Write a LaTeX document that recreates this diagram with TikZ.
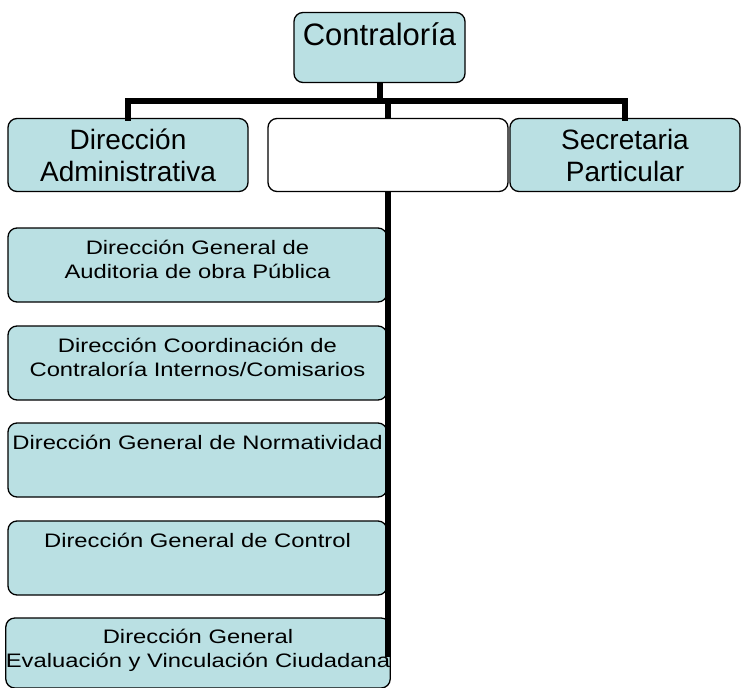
\documentclass[tikz,border=0pt]{standalone}
\usepackage{fontspec}
\setmainfont{Liberation Sans}
\newfontfamily\widefont[FakeStretch=1.22]{Liberation Sans}
\definecolor{boxfill}{RGB}{186,224,227}
\tikzset{
  orgbox/.style={draw=black, line width=1.3pt, rounded corners=9pt, fill=boxfill, inner sep=0pt, align=center},
  topfont/.style={font=\fontsize{31}{34}\selectfont},
  midfont/.style={font=\fontsize{28}{32}\selectfont},
  lowfont/.style={font=\widefont\fontsize{19.5}{24}\selectfont},
  conn/.style={line width=6pt, line join=miter, line cap=rect},
}
\begin{document}
\begin{tikzpicture}[x=1pt,y=-1pt]
\useasboundingbox (0,0) rectangle (742,688);
% top
\node[orgbox, topfont, text depth=27pt, minimum width=171pt, minimum height=70pt] (top) at (379.5,47.5) {Contraloría};
% row 2
\node[orgbox, midfont, minimum width=240pt, minimum height=73pt] (adm) at (128,155) {Dirección\\Administrativa};
\node[orgbox, fill=white, minimum width=240pt, minimum height=73pt] (mid) at (388,155) {};
\node[orgbox, midfont, minimum width=230pt, minimum height=73pt] (sec) at (625,155) {Secretaria\\Particular};
% lower
\node[orgbox, lowfont, text depth=12pt, minimum width=379pt, minimum height=74pt] (b1) at (197.5,265) {Dirección General de\\Auditoria de obra Pública};
\node[orgbox, lowfont, text depth=10.5pt, minimum width=379pt, minimum height=74pt] (b2) at (197.5,363) {Dirección Coordinación de\\Contraloría Internos/Comisarios};
\node[orgbox, lowfont, text depth=36pt, minimum width=379pt, minimum height=74pt] (b3) at (197.5,460) {Dirección General de Normatividad};
\node[orgbox, lowfont, text depth=36pt, minimum width=379pt, minimum height=74pt] (b4) at (197.5,558) {Dirección General de Control};
\node[orgbox, lowfont, text depth=9.5pt, minimum width=380pt, minimum height=70pt] (b5) at (198,653) {Dirección General\\Evaluación y Vinculación Ciudadana};
% connectors
\coordinate (bar) at (0,101);
\coordinate (lineend) at (389,657);
\draw[conn] (adm.north) -- (adm.north |- bar) -- (sec.north |- bar) -- (sec.north);
\draw[conn, line cap=butt] (top.south) -- (top.south |- bar);
\draw[conn, line cap=butt] (mid.north |- bar) -- (mid.north);
\draw[conn, line cap=butt] (mid.south) -- (mid.south |- lineend);
\end{tikzpicture}
\end{document}
